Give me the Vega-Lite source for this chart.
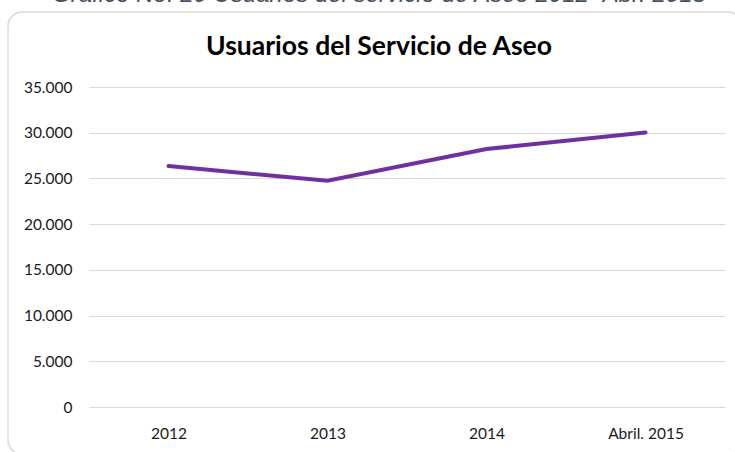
{
  "$schema": "https://vega.github.io/schema/vega-lite/v6.json",
  "autosize": "none",
  "width": 734,
  "height": 442,
  "padding": {"left": 8, "top": 12, "right": -7, "bottom": -2},
  "background": "white",
  "title": {
    "text": "Gráfico No. 20 Usuarios del servicio de Aseo 2012- Abr. 2015",
    "subtitle": "Usuarios del Servicio de Aseo",
    "anchor": "middle",
    "frame": "group",
    "offset": -48,
    "dx": 4,
    "font": "Liberation Sans",
    "fontSize": 24,
    "fontStyle": "italic",
    "fontWeight": "normal",
    "color": "#45505f",
    "subtitleFont": "Lato",
    "subtitleFontSize": 26.5,
    "subtitleFontWeight": "bold",
    "subtitleColor": "#000000",
    "subtitlePadding": 27
  },
  "config": {
    "view": {"stroke": "#d9d9d9", "strokeWidth": 1.5, "cornerRadius": 14},
    "axis": {"labelFont": "Lato", "labelFontSize": 15.5, "labelColor": "#1a1a1a", "domain": false, "ticks": false, "tickSize": 0, "labelPadding": 0, "title": null}
  },
  "data": {
    "values": [
      {"periodo": "2012", "usuarios": 26350},
      {"periodo": "2013", "usuarios": 24745},
      {"periodo": "2014", "usuarios": 28210},
      {"periodo": "Abril. 2015", "usuarios": 30020}
    ]
  },
  "mark": {"type": "line", "color": "#7030a0", "strokeWidth": 4, "strokeCap": "round"},
  "encoding": {
    "x": {
      "field": "periodo",
      "type": "ordinal",
      "sort": null,
      "scale": {"range": [81, 717], "padding": 0.5},
      "axis": {"labelAngle": 0, "offset": -28, "grid": false}
    },
    "y": {
      "field": "usuarios",
      "type": "quantitative",
      "scale": {"domain": [0, 35000], "range": [395, 75], "nice": false},
      "axis": {"values": [0, 5000, 10000, 15000, 20000, 25000, 30000, 35000], "format": ",.0f", "labelExpr": "replace(datum.label, /,/g, '.')", "offset": -64, "grid": true, "gridColor": "#d9d9d9", "gridWidth": 1}
    }
  }
}
